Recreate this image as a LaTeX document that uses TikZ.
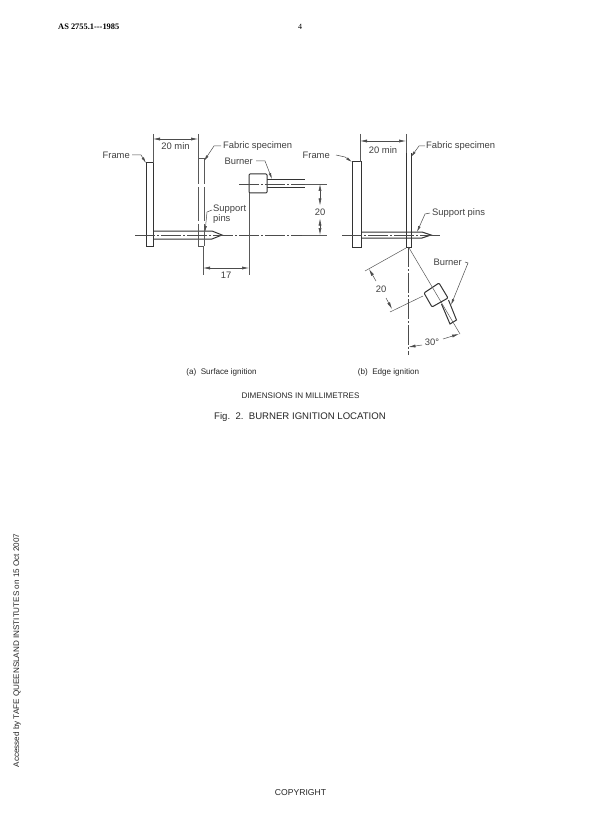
\documentclass[tikz,border=0pt]{standalone}
\usepackage{fontspec}
\setmainfont{Liberation Sans}
\newfontfamily\headfont{Liberation Serif}
\usetikzlibrary{calc,arrows.meta}
\tikzset{
  part/.style={draw=black!80,line width=1pt},
  thinline/.style={draw=black!65,line width=0.5pt},
  axisline/.style={draw=black!70,line width=0.5pt,dash pattern=on 20pt off 2pt on 2pt off 2pt},
  dimline/.style={draw=black!70,line width=0.5pt,{Latex[length=7pt,width=3pt]}-{Latex[length=7pt,width=3pt]}},
  tipline/.style={draw=black!70,line width=0.5pt,-{Latex[length=6pt,width=2.6pt]}},
  lbl/.style={inner sep=0pt,font=\fontsize{9.4}{10.5}\selectfont,text=black!75},
  capt/.style={inner sep=0pt,font=\fontsize{8.1}{9}\selectfont,text=black!85}
}
\begin{document}
\begin{tikzpicture}[x=1pt,y=-1pt]
    \useasboundingbox[fill=white] (0,0) rectangle (600,826);
    % page texts
    \node[inner sep=0pt,anchor=west,font=\headfont\bfseries\fontsize{8.4}{9}\selectfont] (head) at (58,27) {AS 2755.1---1985};
    \node[inner sep=0pt,font=\headfont\fontsize{8}{9}\selectfont] (pageno) at (300,27) {4};
    \node[capt] (capa) at (221.5,372) {(a)\ \ Surface ignition};
    \node[capt] (capb) at (388.5,372) {(b)\ \ Edge ignition};
    \node[capt] (units) at (300.5,396) {DIMENSIONS IN MILLIMETRES};
    \node[inner sep=0pt,font=\fontsize{9.6}{11}\selectfont,text=black!85] (figcap) at (300,417) {Fig.\ \ 2.\ \ BURNER IGNITION LOCATION};
    \node[inner sep=0pt,rotate=90,font=\fontsize{8.1}{9}\selectfont,text=black!85] (access) at (17,650.5) {Accessed by TAFE QUEENSLAND INSTITUTES on 15 Oct 2007};
    \node[capt,font=\fontsize{8.6}{10}\selectfont] (copy) at (300.5,793) {COPYRIGHT};

    % (a) surface ignition
    \draw[part] (146,163) rectangle (153,246);
    \draw[part] (153,231) -- (212,231) -- (222,235) -- (212,239) -- (153,239);
    \draw[thinline,dash pattern=on 26pt off 3pt on 34pt off 3pt] (198,158) -- (198,246);
    \draw[thinline,dash pattern=on 26pt off 3pt on 34pt off 3pt] (204,158) -- (204,246);
    \draw[thinline] (198,158) -- (204,158) (198,246) -- (204,246);
    \draw[part,rounded corners=1pt] (249,174) rectangle (267,193);
    \draw[part] (267,180) -- (305,180) (267,188) -- (305,188);
    \draw[axisline] (135,235) -- (302,235);
    \draw[axisline] (239,184) -- (312,184);
    \coordinate (aFrameL) at (153,134);
    \coordinate (aSpecL) at (198,134);
    \draw[thinline] (aFrameL) -- (153,163) (aSpecL) -- (198,158);
    \draw[dimline] (153,139) -- node[lbl,yshift=-7pt] (aMin) {20 min} (198,139);
    \draw[thinline] (203,246) -- (203,275) (249,193) -- (249,275);
    \draw[dimline] (203,268) -- node[lbl,yshift=-7pt] (aSeventeen) {17} (249,268);
    \draw[thinline] (305,184) -- (327,184) (302,235) -- (327,235);
    \node[lbl] (aTwenty) at (320,212) {20};
    \draw[dimline] (aTwenty.north) ++(0,-3) -- (320,184);
    \draw[dimline] (aTwenty.south) ++(0,3) -- (320,235);
    \node[lbl,anchor=east] (aFrame) at (130,155) {Frame};
    \node[lbl,anchor=west] (aFabric) at (223,146) {Fabric specimen};
    \node[lbl,anchor=east] (aBurner) at (253,161) {Burner};
    \node[lbl,align=left,anchor=west] (aPins) at (213,214) {Support\\pins};
    \draw[tipline] (aFrame.east) ++(2,0) -- ++(9,0) -- (146,163);
    \draw[tipline] (aFabric.west) ++(-2,0) -- (214,146) -- (204,161);
    \draw[tipline] (aBurner.east) ++(3,0) -- (265,161) -- (272,179);
    \draw[tipline] (212,210) -- (207,212) -- (205,232);

    % (b) edge ignition
    \draw[part] (352,162) rectangle (361,247);
    \draw[part] (361,232) -- (422,232) -- (431,235) -- (422,238) -- (361,238);
    \draw[part] (406,153) -- (406,247) -- (411,247) -- (411,153);
    \draw[axisline] (342,235) -- (441,235);
    \coordinate (bFrameL) at (360,134);
    \coordinate (bSpecL) at (406,134);
    \draw[thinline] (bFrameL) -- (360,162) (bSpecL) -- (406,153);
    \draw[dimline] (360,141) -- node[lbl,yshift=-9pt] (bMin) {20 min} (406,141);
    \node[lbl,anchor=east] (bFrame) at (330,155) {Frame};
    \node[lbl,anchor=west] (bFabric) at (426,146) {Fabric specimen};
    \node[lbl,anchor=west] (bPins) at (432,213) {Support pins};
    \node[lbl,anchor=east] (bBurner) at (462,262) {Burner};
    \draw[tipline] (bFrame.east) ++(6,0) -- (345,157) -- (352,162);
    \draw[tipline] (bFabric.west) ++(-1,0) -- (419,146) -- (411,157);
    \draw[tipline] (bPins.west) ++(-2,0) -- (425,214) -- (417,232);
    \draw[tipline] (bBurner.east) ++(3,0) -- (468,263) -- (451,305);
    % inclined burner
    \coordinate (bRoot) at (408.5,247);
    \draw[part,rounded corners=1pt] (424,293) -- (439,283) -- (448,298) -- (432,307) -- cycle;
    \draw[part] (441.5,304) -- (450,324) -- (456.5,320) -- (448.5,300);
    \draw[thinline] (bRoot) -- (460,334);
    \draw[axisline] (bRoot) -- (408.5,355);
    \draw[thinline] (406,248) -- (365,271) (423,296) -- (390,312);
    \node[lbl] (bTwenty) at (381,289) {20};
    \draw[dimline,{Latex[length=7pt,width=3pt]}-] (369,269) -- (376,281);
    \draw[dimline,-{Latex[length=7pt,width=3pt]}] (386,298) -- (392,309);
    \node[lbl] (bAngle) at (432,342) {30°};
    \draw[dimline,{Latex[length=7pt,width=3pt]}-] (408.5,347) -- (422,345);
    \draw[dimline,-{Latex[length=7pt,width=3pt]}] (443,339) -- (459,334);
\end{tikzpicture}
\end{document}
